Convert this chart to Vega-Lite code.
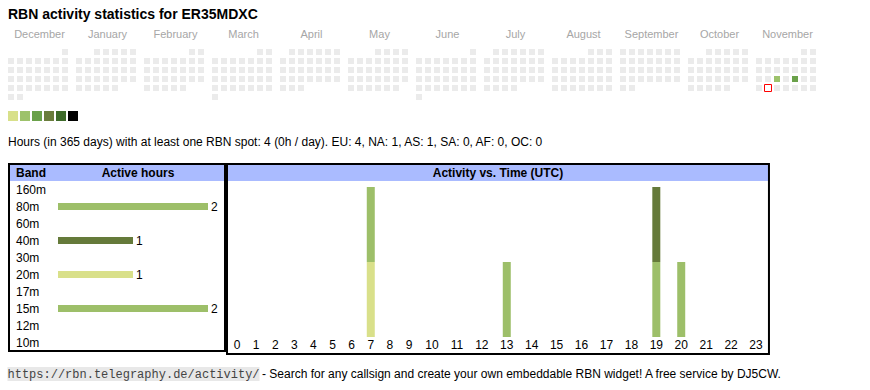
{
  "$schema": "https://vega.github.io/schema/vega-lite/v6.json",
  "width": 870,
  "height": 390,
  "padding": 0,
  "autosize": {"type": "none"},
  "background": "white",
  "config": {
    "view": {"stroke": null},
    "font": "Liberation Sans",
    "axis": {"disable": true},
    "text": {"font": "Liberation Sans", "fontSize": 12, "color": "#000000", "baseline": "middle"}
  },
  "datasets": {
    "title": [{"text": "RBN activity statistics for ER35MDXC"}],
    "summary": [{"text": "Hours (in 365 days) with at least one RBN spot: 4 (0h / day). EU: 4, NA: 1, AS: 1, SA: 0, AF: 0, OC: 0"}],
    "months": [
      {"m": 0, "name": "December"}, {"m": 1, "name": "January"}, {"m": 2, "name": "February"},
      {"m": 3, "name": "March"}, {"m": 4, "name": "April"}, {"m": 5, "name": "May"},
      {"m": 6, "name": "June"}, {"m": 7, "name": "July"}, {"m": 8, "name": "August"},
      {"m": 9, "name": "September"}, {"m": 10, "name": "October"}, {"m": 11, "name": "November"}
    ],
    "bandHeader": [{"col1": "Band", "col2": "Active hours"}],
    "bands": [
      {"band": "160m", "hours": 0}, {"band": "80m", "hours": 2}, {"band": "60m", "hours": 0},
      {"band": "40m", "hours": 1}, {"band": "30m", "hours": 0}, {"band": "20m", "hours": 1},
      {"band": "17m", "hours": 0}, {"band": "15m", "hours": 2}, {"band": "12m", "hours": 0},
      {"band": "10m", "hours": 0}
    ],
    "activityHeader": [{"title": "Activity vs. Time (UTC)"}],
    "hourly": [
      {"hour": 7, "band": "20m", "spots": 1}, {"hour": 7, "band": "80m", "spots": 1},
      {"hour": 13, "band": "80m", "spots": 1}, {"hour": 19, "band": "15m", "spots": 1},
      {"hour": 19, "band": "40m", "spots": 1}, {"hour": 20, "band": "15m", "spots": 1}
    ],
    "hours": [
      {"hour": 0}, {"hour": 1}, {"hour": 2}, {"hour": 3}, {"hour": 4}, {"hour": 5},
      {"hour": 6}, {"hour": 7}, {"hour": 8}, {"hour": 9}, {"hour": 10}, {"hour": 11},
      {"hour": 12}, {"hour": 13}, {"hour": 14}, {"hour": 15}, {"hour": 16}, {"hour": 17},
      {"hour": 18}, {"hour": 19}, {"hour": 20}, {"hour": 21}, {"hour": 22}, {"hour": 23}
    ],
    "footer": [{"url": "https://rbn.telegraphy.de/activity/", "note": "- Search for any callsign and create your own embeddable RBN widget! A free service by DJ5CW."}],
    "days": [
      {"m":0,"d":6,"r":0},
      {"m":0,"d":0,"r":1},{"m":0,"d":1,"r":1},{"m":0,"d":2,"r":1},{"m":0,"d":3,"r":1},{"m":0,"d":4,"r":1},{"m":0,"d":5,"r":1},{"m":0,"d":6,"r":1},
      {"m":0,"d":0,"r":2},{"m":0,"d":1,"r":2},{"m":0,"d":2,"r":2},{"m":0,"d":3,"r":2},{"m":0,"d":4,"r":2},{"m":0,"d":5,"r":2},{"m":0,"d":6,"r":2},
      {"m":0,"d":0,"r":3},{"m":0,"d":1,"r":3},{"m":0,"d":2,"r":3},{"m":0,"d":3,"r":3},{"m":0,"d":4,"r":3},{"m":0,"d":5,"r":3},{"m":0,"d":6,"r":3},
      {"m":0,"d":0,"r":4},{"m":0,"d":1,"r":4},{"m":0,"d":2,"r":4},{"m":0,"d":3,"r":4},{"m":0,"d":4,"r":4},{"m":0,"d":5,"r":4},{"m":0,"d":6,"r":4},
      {"m":0,"d":0,"r":5},{"m":0,"d":1,"r":5},
      {"m":1,"d":2,"r":0},{"m":1,"d":3,"r":0},{"m":1,"d":4,"r":0},{"m":1,"d":5,"r":0},{"m":1,"d":6,"r":0},
      {"m":1,"d":0,"r":1},{"m":1,"d":1,"r":1},{"m":1,"d":2,"r":1},{"m":1,"d":3,"r":1},{"m":1,"d":4,"r":1},{"m":1,"d":5,"r":1},{"m":1,"d":6,"r":1},
      {"m":1,"d":0,"r":2},{"m":1,"d":1,"r":2},{"m":1,"d":2,"r":2},{"m":1,"d":3,"r":2},{"m":1,"d":4,"r":2},{"m":1,"d":5,"r":2},{"m":1,"d":6,"r":2},
      {"m":1,"d":0,"r":3},{"m":1,"d":1,"r":3},{"m":1,"d":2,"r":3},{"m":1,"d":3,"r":3},{"m":1,"d":4,"r":3},{"m":1,"d":5,"r":3},{"m":1,"d":6,"r":3},
      {"m":1,"d":0,"r":4},{"m":1,"d":1,"r":4},{"m":1,"d":2,"r":4},{"m":1,"d":3,"r":4},{"m":1,"d":4,"r":4},
      {"m":2,"d":5,"r":0},{"m":2,"d":6,"r":0},
      {"m":2,"d":0,"r":1},{"m":2,"d":1,"r":1},{"m":2,"d":2,"r":1},{"m":2,"d":3,"r":1},{"m":2,"d":4,"r":1},{"m":2,"d":5,"r":1},{"m":2,"d":6,"r":1},
      {"m":2,"d":0,"r":2},{"m":2,"d":1,"r":2},{"m":2,"d":2,"r":2},{"m":2,"d":3,"r":2},{"m":2,"d":4,"r":2},{"m":2,"d":5,"r":2},{"m":2,"d":6,"r":2},
      {"m":2,"d":0,"r":3},{"m":2,"d":1,"r":3},{"m":2,"d":2,"r":3},{"m":2,"d":3,"r":3},{"m":2,"d":4,"r":3},{"m":2,"d":5,"r":3},{"m":2,"d":6,"r":3},
      {"m":2,"d":0,"r":4},{"m":2,"d":1,"r":4},{"m":2,"d":2,"r":4},{"m":2,"d":3,"r":4},{"m":2,"d":4,"r":4},
      {"m":3,"d":5,"r":0},{"m":3,"d":6,"r":0},
      {"m":3,"d":0,"r":1},{"m":3,"d":1,"r":1},{"m":3,"d":2,"r":1},{"m":3,"d":3,"r":1},{"m":3,"d":4,"r":1},{"m":3,"d":5,"r":1},{"m":3,"d":6,"r":1},
      {"m":3,"d":0,"r":2},{"m":3,"d":1,"r":2},{"m":3,"d":2,"r":2},{"m":3,"d":3,"r":2},{"m":3,"d":4,"r":2},{"m":3,"d":5,"r":2},{"m":3,"d":6,"r":2},
      {"m":3,"d":0,"r":3},{"m":3,"d":1,"r":3},{"m":3,"d":2,"r":3},{"m":3,"d":3,"r":3},{"m":3,"d":4,"r":3},{"m":3,"d":5,"r":3},{"m":3,"d":6,"r":3},
      {"m":3,"d":0,"r":4},{"m":3,"d":1,"r":4},{"m":3,"d":2,"r":4},{"m":3,"d":3,"r":4},{"m":3,"d":4,"r":4},{"m":3,"d":5,"r":4},{"m":3,"d":6,"r":4},
      {"m":3,"d":0,"r":5},
      {"m":4,"d":1,"r":0},{"m":4,"d":2,"r":0},{"m":4,"d":3,"r":0},{"m":4,"d":4,"r":0},{"m":4,"d":5,"r":0},{"m":4,"d":6,"r":0},
      {"m":4,"d":0,"r":1},{"m":4,"d":1,"r":1},{"m":4,"d":2,"r":1},{"m":4,"d":3,"r":1},{"m":4,"d":4,"r":1},{"m":4,"d":5,"r":1},{"m":4,"d":6,"r":1},
      {"m":4,"d":0,"r":2},{"m":4,"d":1,"r":2},{"m":4,"d":2,"r":2},{"m":4,"d":3,"r":2},{"m":4,"d":4,"r":2},{"m":4,"d":5,"r":2},{"m":4,"d":6,"r":2},
      {"m":4,"d":0,"r":3},{"m":4,"d":1,"r":3},{"m":4,"d":2,"r":3},{"m":4,"d":3,"r":3},{"m":4,"d":4,"r":3},{"m":4,"d":5,"r":3},{"m":4,"d":6,"r":3},
      {"m":4,"d":0,"r":4},{"m":4,"d":1,"r":4},{"m":4,"d":2,"r":4},
      {"m":5,"d":3,"r":0},{"m":5,"d":4,"r":0},{"m":5,"d":5,"r":0},{"m":5,"d":6,"r":0},
      {"m":5,"d":0,"r":1},{"m":5,"d":1,"r":1},{"m":5,"d":2,"r":1},{"m":5,"d":3,"r":1},{"m":5,"d":4,"r":1},{"m":5,"d":5,"r":1},{"m":5,"d":6,"r":1},
      {"m":5,"d":0,"r":2},{"m":5,"d":1,"r":2},{"m":5,"d":2,"r":2},{"m":5,"d":3,"r":2},{"m":5,"d":4,"r":2},{"m":5,"d":5,"r":2},{"m":5,"d":6,"r":2},
      {"m":5,"d":0,"r":3},{"m":5,"d":1,"r":3},{"m":5,"d":2,"r":3},{"m":5,"d":3,"r":3},{"m":5,"d":4,"r":3},{"m":5,"d":5,"r":3},{"m":5,"d":6,"r":3},
      {"m":5,"d":0,"r":4},{"m":5,"d":1,"r":4},{"m":5,"d":2,"r":4},{"m":5,"d":3,"r":4},{"m":5,"d":4,"r":4},{"m":5,"d":5,"r":4},
      {"m":6,"d":6,"r":0},
      {"m":6,"d":0,"r":1},{"m":6,"d":1,"r":1},{"m":6,"d":2,"r":1},{"m":6,"d":3,"r":1},{"m":6,"d":4,"r":1},{"m":6,"d":5,"r":1},{"m":6,"d":6,"r":1},
      {"m":6,"d":0,"r":2},{"m":6,"d":1,"r":2},{"m":6,"d":2,"r":2},{"m":6,"d":3,"r":2},{"m":6,"d":4,"r":2},{"m":6,"d":5,"r":2},{"m":6,"d":6,"r":2},
      {"m":6,"d":0,"r":3},{"m":6,"d":1,"r":3},{"m":6,"d":2,"r":3},{"m":6,"d":3,"r":3},{"m":6,"d":4,"r":3},{"m":6,"d":5,"r":3},{"m":6,"d":6,"r":3},
      {"m":6,"d":0,"r":4},{"m":6,"d":1,"r":4},{"m":6,"d":2,"r":4},{"m":6,"d":3,"r":4},{"m":6,"d":4,"r":4},{"m":6,"d":5,"r":4},{"m":6,"d":6,"r":4},
      {"m":6,"d":0,"r":5},
      {"m":7,"d":1,"r":0},{"m":7,"d":2,"r":0},{"m":7,"d":3,"r":0},{"m":7,"d":4,"r":0},{"m":7,"d":5,"r":0},{"m":7,"d":6,"r":0},
      {"m":7,"d":0,"r":1},{"m":7,"d":1,"r":1},{"m":7,"d":2,"r":1},{"m":7,"d":3,"r":1},{"m":7,"d":4,"r":1},{"m":7,"d":5,"r":1},{"m":7,"d":6,"r":1},
      {"m":7,"d":0,"r":2},{"m":7,"d":1,"r":2},{"m":7,"d":2,"r":2},{"m":7,"d":3,"r":2},{"m":7,"d":4,"r":2},{"m":7,"d":5,"r":2},{"m":7,"d":6,"r":2},
      {"m":7,"d":0,"r":3},{"m":7,"d":1,"r":3},{"m":7,"d":2,"r":3},{"m":7,"d":3,"r":3},{"m":7,"d":4,"r":3},{"m":7,"d":5,"r":3},{"m":7,"d":6,"r":3},
      {"m":7,"d":0,"r":4},{"m":7,"d":1,"r":4},{"m":7,"d":2,"r":4},{"m":7,"d":3,"r":4},
      {"m":8,"d":4,"r":0},{"m":8,"d":5,"r":0},{"m":8,"d":6,"r":0},
      {"m":8,"d":0,"r":1},{"m":8,"d":1,"r":1},{"m":8,"d":2,"r":1},{"m":8,"d":3,"r":1},{"m":8,"d":4,"r":1},{"m":8,"d":5,"r":1},{"m":8,"d":6,"r":1},
      {"m":8,"d":0,"r":2},{"m":8,"d":1,"r":2},{"m":8,"d":2,"r":2},{"m":8,"d":3,"r":2},{"m":8,"d":4,"r":2},{"m":8,"d":5,"r":2},{"m":8,"d":6,"r":2},
      {"m":8,"d":0,"r":3},{"m":8,"d":1,"r":3},{"m":8,"d":2,"r":3},{"m":8,"d":3,"r":3},{"m":8,"d":4,"r":3},{"m":8,"d":5,"r":3},{"m":8,"d":6,"r":3},
      {"m":8,"d":0,"r":4},{"m":8,"d":1,"r":4},{"m":8,"d":2,"r":4},{"m":8,"d":3,"r":4},{"m":8,"d":4,"r":4},{"m":8,"d":5,"r":4},{"m":8,"d":6,"r":4},
      {"m":9,"d":0,"r":0},{"m":9,"d":1,"r":0},{"m":9,"d":2,"r":0},{"m":9,"d":3,"r":0},{"m":9,"d":4,"r":0},{"m":9,"d":5,"r":0},{"m":9,"d":6,"r":0},
      {"m":9,"d":0,"r":1},{"m":9,"d":1,"r":1},{"m":9,"d":2,"r":1},{"m":9,"d":3,"r":1},{"m":9,"d":4,"r":1},{"m":9,"d":5,"r":1},{"m":9,"d":6,"r":1},
      {"m":9,"d":0,"r":2},{"m":9,"d":1,"r":2},{"m":9,"d":2,"r":2},{"m":9,"d":3,"r":2},{"m":9,"d":4,"r":2},{"m":9,"d":5,"r":2},{"m":9,"d":6,"r":2},
      {"m":9,"d":0,"r":3},{"m":9,"d":1,"r":3},{"m":9,"d":2,"r":3},{"m":9,"d":3,"r":3},{"m":9,"d":4,"r":3},{"m":9,"d":5,"r":3},{"m":9,"d":6,"r":3},
      {"m":9,"d":0,"r":4},{"m":9,"d":1,"r":4},
      {"m":10,"d":2,"r":0},{"m":10,"d":3,"r":0},{"m":10,"d":4,"r":0},{"m":10,"d":5,"r":0},{"m":10,"d":6,"r":0},
      {"m":10,"d":0,"r":1},{"m":10,"d":1,"r":1},{"m":10,"d":2,"r":1},{"m":10,"d":3,"r":1},{"m":10,"d":4,"r":1},{"m":10,"d":5,"r":1},{"m":10,"d":6,"r":1},
      {"m":10,"d":0,"r":2},{"m":10,"d":1,"r":2},{"m":10,"d":2,"r":2},{"m":10,"d":3,"r":2},{"m":10,"d":4,"r":2},{"m":10,"d":5,"r":2},{"m":10,"d":6,"r":2},
      {"m":10,"d":0,"r":3},{"m":10,"d":1,"r":3},{"m":10,"d":2,"r":3},{"m":10,"d":3,"r":3},{"m":10,"d":4,"r":3},{"m":10,"d":5,"r":3},{"m":10,"d":6,"r":3},
      {"m":10,"d":0,"r":4},{"m":10,"d":1,"r":4},{"m":10,"d":2,"r":4},{"m":10,"d":3,"r":4},{"m":10,"d":4,"r":4},
      {"m":11,"d":5,"r":0},{"m":11,"d":6,"r":0},
      {"m":11,"d":0,"r":1},{"m":11,"d":1,"r":1},{"m":11,"d":2,"r":1},{"m":11,"d":3,"r":1},{"m":11,"d":4,"r":1},{"m":11,"d":5,"r":1},{"m":11,"d":6,"r":1},
      {"m":11,"d":0,"r":2},{"m":11,"d":1,"r":2},{"m":11,"d":2,"r":2},{"m":11,"d":3,"r":2},{"m":11,"d":4,"r":2},{"m":11,"d":5,"r":2},{"m":11,"d":6,"r":2},
      {"m":11,"d":0,"r":3},{"m":11,"d":1,"r":3},{"m":11,"d":2,"r":3,"level":2},{"m":11,"d":3,"r":3},{"m":11,"d":4,"r":3,"level":3},{"m":11,"d":5,"r":3},{"m":11,"d":6,"r":3},
      {"m":11,"d":0,"r":4},{"m":11,"d":1,"r":4,"today":true},{"m":11,"d":2,"r":4},{"m":11,"d":3,"r":4},{"m":11,"d":4,"r":4},{"m":11,"d":5,"r":4},{"m":11,"d":6,"r":4}
    ]
  },
  "layer": [
    {
      "layer": [
        {
          "data": {"name": "days"},
          "mark": {"type": "square", "size": 36, "opacity": 1, "color": "#ebebeb"},
          "encoding": {
            "x": {"field": "m", "type": "ordinal", "scale": {"type": "band", "domain": [0,1,2,3,4,5,6,7,8,9,10,11], "range": [8, 816], "paddingInner": 0.117647, "paddingOuter": 0}},
            "xOffset": {"field": "d", "type": "ordinal", "scale": {"type": "band", "domain": [0,1,2,3,4,5,6], "paddingInner": 0.333333, "paddingOuter": 0}},
            "y": {"field": "r", "type": "quantitative", "scale": {"domain": [0, 5], "range": [52, 97], "nice": false, "zero": false}}
          }
        },
        {
          "data": {"name": "days"},
          "transform": [{"filter": "datum.level > 0"}],
          "mark": {"type": "square", "size": 36, "opacity": 1},
          "encoding": {
            "x": {"field": "m", "type": "ordinal"},
            "xOffset": {"field": "d", "type": "ordinal"},
            "y": {"field": "r", "type": "quantitative"},
            "color": {
              "field": "level", "type": "ordinal",
              "scale": {"domain": [1,2,3,4,5,6], "range": ["#d8e08a", "#9dc26b", "#6aa14a", "#6a7d3c", "#3e6b2a", "#000000"]},
              "legend": {"orient": "none", "legendX": 8, "legendY": 111, "direction": "horizontal", "title": null, "labelExpr": "''", "labelFontSize": 1, "labelOffset": 0, "columnPadding": 2, "rowPadding": 0, "padding": 0, "symbolType": "square", "symbolSize": 100, "symbolStrokeWidth": 0, "symbolOpacity": 1}
            }
          }
        },
        {
          "data": {"name": "days"},
          "transform": [{"filter": "datum.today"}],
          "mark": {"type": "square", "size": 49, "opacity": 1, "filled": true, "fill": "#ffffff", "stroke": "#ff0000", "strokeWidth": 1},
          "encoding": {
            "x": {"field": "m", "type": "ordinal"},
            "xOffset": {"field": "d", "type": "ordinal"},
            "y": {"field": "r", "type": "quantitative"}
          }
        },
        {
          "data": {"name": "months"},
          "mark": {"type": "text", "fontSize": 11, "color": "#a6a6a6", "dx": 1.5},
          "encoding": {
            "x": {"field": "m", "type": "ordinal"},
            "y": {"datum": -1.856},
            "text": {"field": "name"}
          }
        },
        {
          "data": {"name": "title"},
          "mark": {"type": "text", "fontSize": 14, "fontWeight": "bold", "align": "left"},
          "encoding": {
            "x": {"datum": 0, "type": "ordinal", "bandPosition": 0},
            "y": {"datum": -4.111},
            "text": {"field": "text"}
          }
        },
        {
          "data": {"name": "summary"},
          "mark": {"type": "text", "fontSize": 12, "align": "left"},
          "encoding": {
            "x": {"datum": 0, "type": "ordinal", "bandPosition": 0},
            "y": {"datum": 9.95},
            "text": {"field": "text"}
          }
        }
      ]
    },
    {
      "layer": [
        {
          "data": {"name": "bandHeader"},
          "mark": {"type": "rect", "color": "#aabbff"},
          "encoding": {
            "x": {"datum": -0.64, "type": "quantitative", "scale": {"domain": [0, 2], "range": [58, 208], "nice": false, "zero": false, "padding": 0}},
            "x2": {"datum": 2.2133},
            "y": {"field": "col1", "type": "nominal", "scale": {"type": "band", "domain": ["Band", "160m", "80m", "60m", "40m", "30m", "20m", "17m", "15m", "12m", "10m"], "range": [164, 351], "paddingInner": 0, "paddingOuter": 0}}
          }
        },
        {
          "data": {"name": "bandHeader"},
          "mark": {"type": "text", "fontWeight": "bold", "align": "left"},
          "encoding": {
            "x": {"datum": -0.56},
            "y": {"field": "col1", "type": "nominal"},
            "text": {"field": "col1"}
          }
        },
        {
          "data": {"name": "bandHeader"},
          "mark": {"type": "text", "fontWeight": "bold", "align": "center"},
          "encoding": {
            "x": {"datum": 1.0667},
            "y": {"field": "col1", "type": "nominal"},
            "text": {"field": "col2"}
          }
        },
        {
          "data": {"name": "bands"},
          "mark": {"type": "text", "align": "left"},
          "encoding": {
            "x": {"datum": -0.56},
            "y": {"field": "band", "type": "nominal"},
            "text": {"field": "band"}
          }
        },
        {
          "data": {"name": "bands"},
          "transform": [{"filter": "datum.hours > 0"}],
          "mark": {"type": "bar", "size": 7},
          "encoding": {
            "x": {"field": "hours", "type": "quantitative", "stack": null},
            "y": {"field": "band", "type": "nominal"},
            "color": {"field": "band", "type": "nominal", "scale": {"domain": ["80m", "40m", "20m", "15m"], "range": ["#9dbf69", "#657a3a", "#d9e08a", "#9dbf69"]}, "legend": null}
          }
        },
        {
          "data": {"name": "bands"},
          "transform": [{"filter": "datum.hours > 0"}],
          "mark": {"type": "text", "align": "left", "dx": 3},
          "encoding": {
            "x": {"field": "hours", "type": "quantitative"},
            "y": {"field": "band", "type": "nominal"},
            "text": {"field": "hours"}
          }
        },
        {
          "data": {"name": "bandHeader"},
          "mark": {"type": "rect", "filled": false, "stroke": "#000000", "strokeWidth": 2},
          "encoding": {
            "x": {"datum": -0.6533},
            "x2": {"datum": 2.2267},
            "y": {"datum": "Band", "type": "nominal", "bandPosition": 0},
            "y2": {"datum": "10m", "bandPosition": 1}
          }
        }
      ]
    },
    {
      "layer": [
        {
          "data": {"name": "activityHeader"},
          "mark": {"type": "rect", "color": "#aabbff"},
          "encoding": {
            "x": {"datum": -0.47, "type": "quantitative", "scale": {"domain": [0, 9, 10, 23], "range": [237, 409, 432, 756], "nice": false, "zero": false, "padding": 0}},
            "x2": {"datum": 23.48},
            "y": {"datum": 2.2933, "type": "quantitative", "scale": {"domain": [0, 2], "range": [337, 187], "nice": false, "zero": false, "padding": 0}},
            "y2": {"datum": 2.08}
          }
        },
        {
          "data": {"name": "activityHeader"},
          "mark": {"type": "text", "fontWeight": "bold", "align": "center"},
          "encoding": {
            "x": {"datum": 12.648},
            "y": {"datum": 2.1867},
            "text": {"field": "title"}
          }
        },
        {
          "data": {"name": "hourly"},
          "mark": {"type": "bar", "size": 8, "orient": "vertical"},
          "encoding": {
            "x": {"field": "hour", "type": "quantitative"},
            "y": {"field": "spots", "type": "quantitative", "stack": "zero"},
            "color": {"field": "band", "type": "nominal", "scale": {"domain": ["80m", "40m", "20m", "15m"], "range": ["#9dbf69", "#657a3a", "#d9e08a", "#9dbf69"]}, "legend": null},
            "order": {"field": "band", "type": "ordinal", "sort": "ascending"}
          }
        },
        {
          "data": {"name": "hours"},
          "mark": {"type": "text", "align": "center"},
          "encoding": {
            "x": {"field": "hour", "type": "quantitative"},
            "y": {"datum": -0.109},
            "text": {"field": "hour"}
          }
        },
        {
          "data": {"name": "activityHeader"},
          "mark": {"type": "rect", "filled": false, "stroke": "#000000", "strokeWidth": 2},
          "encoding": {
            "x": {"datum": -0.523},
            "x2": {"datum": 23.52},
            "y": {"datum": 2.3067},
            "y2": {"datum": -0.2267}
          }
        }
      ]
    },
    {
      "layer": [
        {
          "data": {"name": "footer"},
          "mark": {"type": "rect", "color": "#e8e8e8"},
          "encoding": {
            "x": {"datum": 0, "type": "quantitative", "scale": {"domain": [0, 35], "range": [7.5, 259.5], "nice": false, "zero": false, "padding": 0}},
            "x2": {"datum": 35},
            "y": {"datum": 0, "type": "quantitative", "scale": {"domain": [0, 1], "range": [367, 381], "nice": false, "zero": false, "padding": 0}},
            "y2": {"datum": 1}
          }
        },
        {
          "data": {"name": "footer"},
          "mark": {"type": "text", "font": "Liberation Mono", "fontSize": 12, "color": "#444444", "align": "left"},
          "encoding": {
            "x": {"datum": 0},
            "y": {"datum": 0.5},
            "text": {"field": "url"}
          }
        },
        {
          "data": {"name": "footer"},
          "mark": {"type": "text", "fontSize": 12, "align": "left"},
          "encoding": {
            "x": {"datum": 35.35},
            "y": {"datum": 0.5},
            "text": {"field": "note"}
          }
        }
      ]
    }
  ],
  "resolve": {"scale": {"x": "independent", "y": "independent", "color": "independent"}}
}
